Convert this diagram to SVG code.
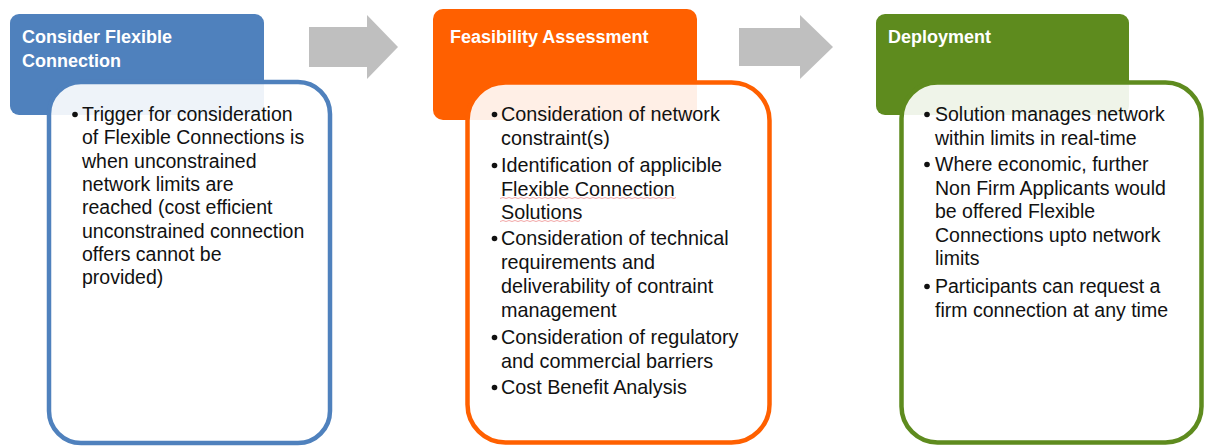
<svg xmlns="http://www.w3.org/2000/svg" width="1205" height="446" viewBox="0 0 1205 446">
<style>
.title{font-family:"Liberation Sans",Arial,sans-serif;font-weight:bold;font-size:18px;fill:#ffffff}
.body{font-family:"Liberation Sans",Arial,sans-serif;font-size:19.5px;fill:#111111}
.body2{font-family:"Liberation Sans",Arial,sans-serif;font-size:19.8px;fill:#111111}
.inner{fill:#ffffff;fill-opacity:0.9;stroke-width:4.5}
.arrow{fill:#BFBFBF}
.dot{fill:#111111}
.squiggle{stroke:#F2A8A8;stroke-width:1;fill:none}
</style>
<rect width="1205" height="446" fill="#ffffff"/>
<g id="connectors">
  <polygon class="arrow" points="309,27 367,27 367,15 398,47 367,79 367,67 309,67"/>
  <polygon class="arrow" points="739,28 800,28 800,15 833,47 800,79 800,66 739,66"/>
</g>
<g id="node-consider">
  <rect x="10" y="14" width="254" height="101" rx="9" fill="#4F81BD"/>
  <text class="title" x="22" y="43">Consider Flexible</text>
  <text class="title" x="22" y="67">Connection</text>
  <rect class="inner" x="49" y="82" width="281" height="361" rx="32" stroke="#4F81BD"/>
  <circle class="dot" cx="75" cy="114.5" r="2.8"/>
  <text class="body" x="82">
    <tspan x="82" y="121">Trigger for consideration</tspan>
    <tspan x="82" y="144.3">of Flexible Connections is</tspan>
    <tspan x="82" y="167.6">when unconstrained</tspan>
    <tspan x="82" y="190.9">network limits are</tspan>
    <tspan x="82" y="214.2">reached (cost efficient</tspan>
    <tspan x="82" y="237.5">unconstrained connection</tspan>
    <tspan x="82" y="260.8">offers cannot be</tspan>
    <tspan x="82" y="284.1">provided)</tspan>
  </text>
</g>
<g id="node-feasibility">
  <rect x="433" y="9" width="264" height="111" rx="10" fill="#FF6000"/>
  <text class="title" x="450" y="43">Feasibility Assessment</text>
  <rect class="inner" x="467.5" y="82.5" width="302" height="360" rx="38" stroke="#FF6000"/>
  <circle class="dot" cx="494.5" cy="114.5" r="2.8"/>
  <circle class="dot" cx="494.5" cy="165.5" r="2.8"/>
  <circle class="dot" cx="494.5" cy="238.5" r="2.8"/>
  <circle class="dot" cx="494.5" cy="337.5" r="2.8"/>
  <circle class="dot" cx="494.5" cy="387.5" r="2.8"/>
  <text class="body2">
    <tspan x="501" y="121">Consideration of network</tspan>
    <tspan x="501" y="145">constraint(s)</tspan>
    <tspan x="501" y="172">Identification of applicible</tspan>
    <tspan x="501" y="195.5">Flexible Connection</tspan>
    <tspan x="501" y="219">Solutions</tspan>
    <tspan x="501" y="245">Consideration of technical</tspan>
    <tspan x="501" y="269">requirements and</tspan>
    <tspan x="501" y="293">deliverability of contraint</tspan>
    <tspan x="501" y="317">management</tspan>
    <tspan x="501" y="344">Consideration of regulatory</tspan>
    <tspan x="501" y="368">and commercial barriers</tspan>
    <tspan x="501" y="394">Cost Benefit Analysis</tspan>
  </text>
  <polyline class="squiggle" points="500,198.5 503,197.5 506,198.5 509,197.5 512,198.5 515,197.5 518,198.5 521,197.5 524,198.5 527,197.5 530,198.5 533,197.5 536,198.5 539,197.5 542,198.5 545,197.5 548,198.5 551,197.5 554,198.5 557,197.5 560,198.5 563,197.5 566,198.5 569,197.5 572,198.5 575,197.5 578,198.5 581,197.5 584,198.5 587,197.5 590,198.5 593,197.5 596,198.5 599,197.5 602,198.5 605,197.5 608,198.5 611,197.5 614,198.5 617,197.5 620,198.5 623,197.5 626,198.5 629,197.5 632,198.5 635,197.5 638,198.5 641,197.5 644,198.5 647,197.5 650,198.5 653,197.5 656,198.5 659,197.5 662,198.5 665,197.5 668,198.5 671,197.5 674,198.5 676,197.5"/>
  <polyline class="squiggle" points="500,221.5 503,220.5 506,221.5 509,220.5 512,221.5 515,220.5 518,221.5 521,220.5 524,221.5 527,220.5 530,221.5 533,220.5 536,221.5 539,220.5 542,221.5 545,220.5 548,221.5 551,220.5 554,221.5 557,220.5 560,221.5 563,220.5 566,221.5 569,220.5 572,221.5 575,220.5 578,221.5 580,220.5"/>
</g>
<g id="node-deployment">
  <rect x="876" y="14" width="253" height="101" rx="9" fill="#5E8B1E"/>
  <text class="title" x="888" y="43">Deployment</text>
  <rect class="inner" x="901.5" y="82.5" width="300" height="360" rx="36" stroke="#5E8B1E"/>
  <circle class="dot" cx="927" cy="114.5" r="2.8"/>
  <circle class="dot" cx="927" cy="164.5" r="2.8"/>
  <circle class="dot" cx="927" cy="286.5" r="2.8"/>
  <text class="body">
    <tspan x="935" y="121">Solution manages network</tspan>
    <tspan x="935" y="144.5">within limits in real-time</tspan>
    <tspan x="935" y="171">Where economic, further</tspan>
    <tspan x="935" y="194.5">Non Firm Applicants would</tspan>
    <tspan x="935" y="218">be offered Flexible</tspan>
    <tspan x="935" y="241.5">Connections upto network</tspan>
    <tspan x="935" y="265">limits</tspan>
    <tspan x="935" y="293">Participants can request a</tspan>
    <tspan x="935" y="316.5">firm connection at any time</tspan>
  </text>
</g>
</svg>
